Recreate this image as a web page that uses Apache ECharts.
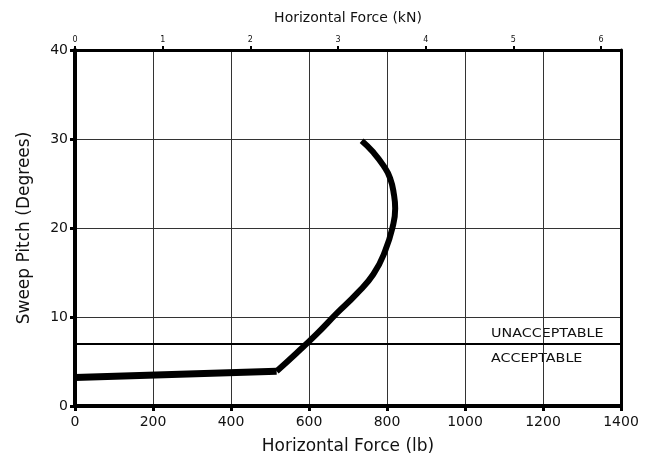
<!DOCTYPE html>
<html>
<head>
<meta charset="utf-8">
<script src="https://cdn.jsdelivr.net/npm/echarts@6/dist/echarts.min.js"></script>
<style>
  html, body { margin: 0; padding: 0; background: #fff; }
  #chart { width: 650px; height: 460px; }
</style>
</head>
<body>
<div id="chart"></div>
<script>
// 数据
var lbPerKn = 224.809;
var lowSegment = [[0, 3.2], [517, 3.9]];
var curveSegment = [[517, 3.9], [567, 5.9], [620, 8.1], [671, 10.4], [722, 12.6], [765, 14.8], [795, 17.4], [816, 20.4], [821, 22.2], [818, 23.7], [808, 25.6], [791, 27.0], [765, 28.5], [735, 29.8]];
var limitPitch = 7;
var limitLabels = ['UNACCEPTABLE', 'ACCEPTABLE'];

var myChart = echarts.init(document.getElementById('chart'));
var font = 'DejaVu Sans, Liberation Sans, sans-serif';
var plainNumber = function (v) { return String(v); };

var option = {
    animation: false,
    grid: { left: 75, right: 29, top: 50, bottom: 50 },
    xAxis: [
        {
            type: 'value',
            position: 'bottom',
            min: 0, max: 1400, interval: 200,
            name: 'Horizontal Force (lb)',
            nameLocation: 'middle',
            nameGap: 32,
            nameTextStyle: { fontFamily: font, fontSize: 17, color: '#111' },
            axisLine: { show: true, onZero: false, lineStyle: { color: '#000', width: 4 } },
            axisTick: { show: true, length: 5, lineStyle: { color: '#000', width: 3 } },
            axisLabel: { fontFamily: font, fontSize: 14, color: '#111', margin: 9, formatter: plainNumber },
            splitLine: { show: true, lineStyle: { color: '#333', width: 1 } }
        },
        {
            type: 'value',
            position: 'top',
            min: 0, max: 1400 / lbPerKn, interval: 1,
            name: 'Horizontal Force (kN)',
            nameLocation: 'middle',
            nameGap: 25,
            nameTextStyle: { fontFamily: font, fontSize: 14, color: '#111' },
            axisLine: { show: true, onZero: false, lineStyle: { color: '#000', width: 3 } },
            axisTick: { show: true, length: 4, lineStyle: { color: '#000', width: 2 } },
            axisLabel: { fontFamily: font, fontSize: 8, color: '#111', margin: 6, formatter: plainNumber },
            splitLine: { show: false }
        }
    ],
    yAxis: [
        {
            type: 'value',
            position: 'left',
            min: 0, max: 40, interval: 10,
            name: 'Sweep Pitch (Degrees)',
            nameLocation: 'middle',
            nameGap: 42,
            nameTextStyle: { fontFamily: font, fontSize: 17, color: '#111' },
            axisLine: { show: true, onZero: false, lineStyle: { color: '#000', width: 4 } },
            axisTick: { show: true, length: 5, lineStyle: { color: '#000', width: 3 } },
            axisLabel: { fontFamily: font, fontSize: 14, color: '#111', margin: 7 },
            splitLine: { show: true, lineStyle: { color: '#333', width: 1 } }
        },
        {
            type: 'value',
            position: 'right',
            min: 0, max: 40,
            axisLine: { show: true, onZero: false, lineStyle: { color: '#000', width: 3 } },
            axisTick: { show: false },
            axisLabel: { show: false },
            splitLine: { show: false }
        }
    ],
    graphic: [
        {
            type: 'text', x: 491, y: 334, scaleX: 1.1,
            style: { text: limitLabels[0], font: '13px ' + font, fill: '#111', verticalAlign: 'middle' }
        },
        {
            type: 'text', x: 491, y: 359, scaleX: 1.1,
            style: { text: limitLabels[1], font: '13px ' + font, fill: '#111', verticalAlign: 'middle' }
        }
    ],
    series: [
        {
            type: 'line',
            data: lowSegment,
            symbol: 'none',
            lineStyle: { color: '#000', width: 7 },
            markLine: {
                silent: true,
                symbol: 'none',
                label: { show: false },
                lineStyle: { color: '#000', width: 2, type: 'solid' },
                data: [{ yAxis: limitPitch }]
            },
            z: 3
        },
        {
            type: 'line',
            data: curveSegment,
            symbol: 'none',
            smooth: 0.5,
            lineStyle: { color: '#000', width: 6, cap: 'butt' },
            z: 3
        }
    ]
};

myChart.setOption(option);
</script>
</body>
</html>
